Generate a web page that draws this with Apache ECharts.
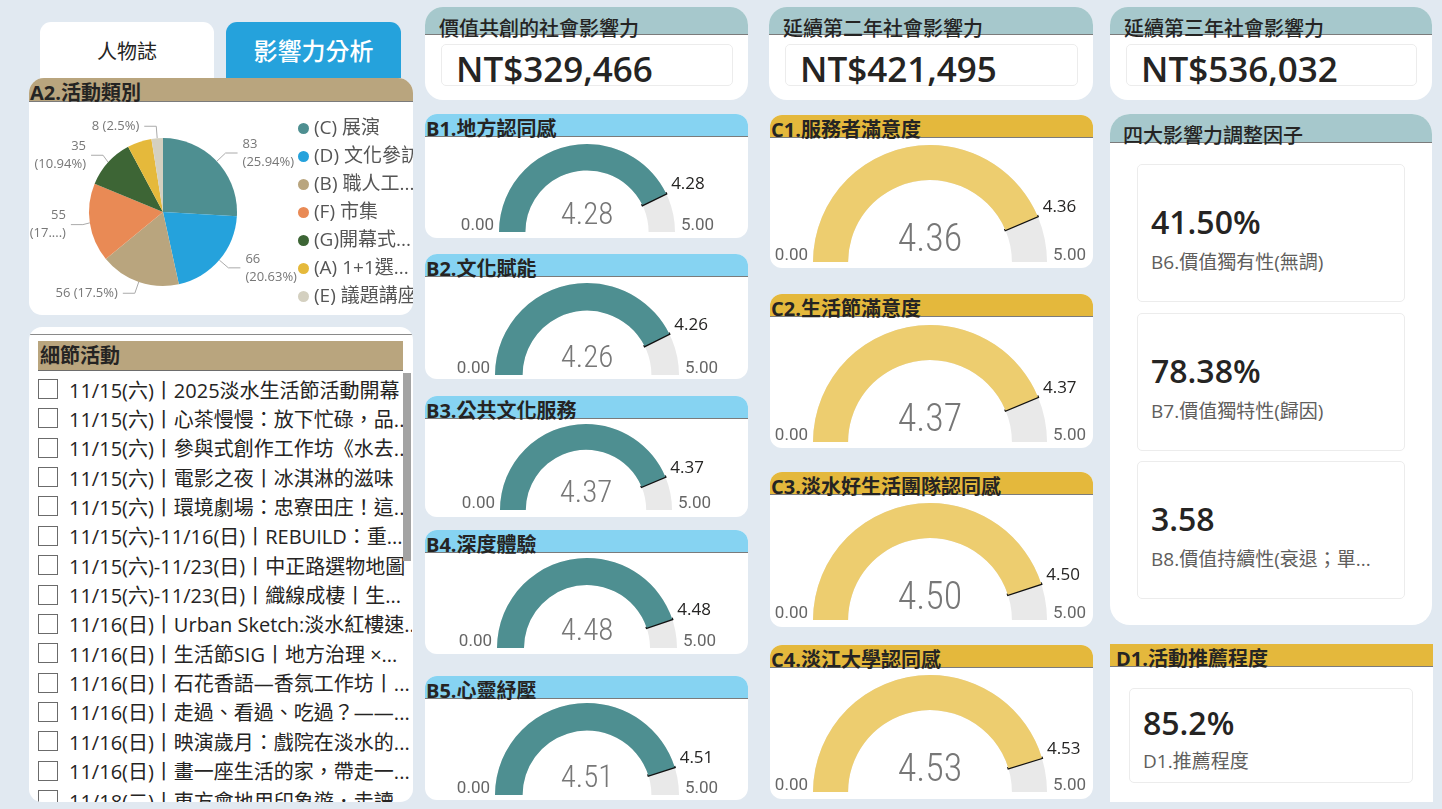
<!DOCTYPE html>
<html>
<head>
<meta charset="utf-8">
<script src="https://cdn.jsdelivr.net/npm/echarts@6/dist/echarts.min.js"></script>
<style>
html, body { margin: 0; padding: 0; }
body {
    width: 1442px; height: 809px; background: #E1E9F1; position: relative; overflow: hidden;
    font-family: "Open Sans", "Noto Sans CJK TC", sans-serif; color: #252423;
}
.card { position: absolute; background: #fff; border-radius: 13px; overflow: hidden; }
.hdr { position: absolute; left: 0; right: 0; top: 0; border-bottom: 1px solid #7b7b7b; box-sizing: border-box; }
.ttl { position: absolute; white-space: nowrap; font-size: 20px; line-height: 20px; font-weight: 700; }
.box { position: absolute; border: 1px solid #ececec; border-radius: 5px; box-sizing: border-box; }
.big { position: absolute; white-space: nowrap; font-weight: 600; line-height: 1; }
.sub { position: absolute; white-space: nowrap; font-size: 19px; line-height: 1; color: #605E5C; }
.tab { position: absolute; border-radius: 11px 11px 0 0; text-align: center; }
.row { position: absolute; left: 9px; width: 374px; height: 29px; display: flex; align-items: center; white-space: nowrap; overflow: hidden; font-size: 20px; }
.chk { width: 18px; height: 18px; border: 1px solid #6b6b6b; flex: none; margin-right: 11px; }
#gauges { position: absolute; left: 0; top: 0; width: 1442px; height: 809px; z-index: 5; pointer-events: none; }
</style>
</head>
<body>
<div id="gauges"></div>
<script>
// ---------- data ----------
const kpiTitles = ["價值共創的社會影響力", "延續第二年社會影響力", "延續第三年社會影響力"];
const kpiValues = [329466, 421495, 536032];

const pieNames = ["(C) 展演", "(D) 文化參訪", "(B) 職人工...", "(F) 市集", "(G)開幕式...", "(A) 1+1選...", "(E) 議題講座"];
const pieValues = [83, 66, 56, 55, 35, 17, 8];
const pieColors = ["#4E8F91", "#25A2DC", "#B9A57E", "#E98A55", "#3D6535", "#E5B93B", "#D4D0C0"];

const gaugeTitles = ["B1.地方認同感", "B2.文化賦能", "B3.公共文化服務", "B4.深度體驗", "B5.心靈紓壓",
    "C1.服務者滿意度", "C2.生活節滿意度", "C3.淡水好生活團隊認同感", "C4.淡江大學認同感"];
const gaugeValues = [4.28, 4.26, 4.37, 4.48, 4.51, 4.36, 4.37, 4.50, 4.53];
const gaugeMin = 0;
const gaugeMax = 5;

const factorLabels = ["B6.價值獨有性(無調)", "B7.價值獨特性(歸因)", "B8.價值持續性(衰退；單..."];
const factorValues = ["41.50%", "78.38%", "3.58"];
const recommendLabel = "D1.推薦程度";
const recommendValue = "85.2%";

const activities = [
    "11/15(六)丨2025淡水生活節活動開幕",
    "11/15(六)丨心茶慢慢：放下忙碌，品...",
    "11/15(六)丨參與式創作工作坊《水去...",
    "11/15(六)丨電影之夜丨冰淇淋的滋味",
    "11/15(六)丨環境劇場：忠寮田庄！這...",
    "11/15(六)-11/16(日)丨REBUILD：重...",
    "11/15(六)-11/23(日)丨中正路選物地圖",
    "11/15(六)-11/23(日)丨織線成棲丨生...",
    "11/16(日)丨Urban Sketch:淡水紅樓速...",
    "11/16(日)丨生活節SIG丨地方治理 ×...",
    "11/16(日)丨石花香語—香氛工作坊丨...",
    "11/16(日)丨走過、看過、吃過？——...",
    "11/16(日)丨映演歲月：戲院在淡水的...",
    "11/16(日)丨畫一座生活的家，帶走一...",
    "11/18(二)丨東方會地用印象遊．走讀..."
];

// ---------- layout ----------
const page = document.body;
const teal = "#4E8F91", gold = "#EDCD6F", track = "#E9E9E9";
const gaugeBoxes = [
    { x: 425, y: 114, w: 323, h: 124, cx: 587, cy: 232, r: 88 },
    { x: 425, y: 254, w: 323, h: 125, cx: 587, cy: 375, r: 92 },
    { x: 425, y: 396, w: 323, h: 121, cx: 586, cy: 510, r: 86 },
    { x: 425, y: 530, w: 323, h: 124, cx: 587, cy: 648, r: 90 },
    { x: 425, y: 676, w: 323, h: 124, cx: 587, cy: 795, r: 92 },
    { x: 770, y: 115, w: 323, h: 153, cx: 930, cy: 262, r: 117 },
    { x: 770, y: 294, w: 323, h: 154, cx: 930, cy: 442, r: 117 },
    { x: 770, y: 472, w: 323, h: 155, cx: 930, cy: 620, r: 117 },
    { x: 770, y: 645, w: 323, h: 154, cx: 930, cy: 792, r: 117 }
];

let el = (cls, parent, css, text) => {
    const d = document.createElement("div");
    if (cls) d.className = cls;
    Object.assign(d.style, css || {});
    if (text != null) d.textContent = text;
    parent.appendChild(d);
    return d;
};

let card = (x, y, w, h, head, headH, title, tx, ty, extra) => {
    const c = el("card", page, Object.assign({ left: x + "px", top: y + "px", width: w + "px", height: h + "px" }, extra || {}));
    if (head) el("hdr", c, { height: headH + "px", background: head });
    if (title) el("ttl", c, { left: tx + "px", top: ty + "px" }, title);
    return c;
};

// tabs
el("tab", page, { left: "40px", top: "22px", width: "174px", height: "60px", background: "#fff", fontSize: "20px", lineHeight: "60px" }, "人物誌");
el("tab", page, { left: "226px", top: "22px", width: "175px", height: "56px", background: "#25A2DC", color: "#fff", fontSize: "24px", fontWeight: 500, lineHeight: "58px" }, "影響力分析");

// pie card
const pieCard = card(29, 78, 384, 237, "#B9A57E", 24, "A2.活動類別", 1, 5, { borderRadius: "15px 15px 13px 13px" });
const pieDiv = el(null, pieCard, { position: "absolute", left: 0, top: 0, width: "384px", height: "237px" });

// activity list card
const listCard = card(29, 327, 384, 475, null, 0, null);
el(null, listCard, { position: "absolute", left: 0, right: 0, top: "7px", height: "1px", background: "#8a8a8a" });
const lh = el(null, listCard, { position: "absolute", left: "9px", top: "14px", width: "365px", height: "30px", background: "#B9A57E", borderBottom: "1px solid #6d6d6d", boxSizing: "border-box" });
el("ttl", lh, { left: "2px", top: "5px" }, "細節活動");
activities.forEach((t, i) => {
    const r = el("row", listCard, { top: (47.5 + i * 29.36) + "px" });
    el("chk", r);
    el(null, r, {}, t);
});
el(null, listCard, { position: "absolute", left: "374px", top: "46px", width: "8px", height: "188px", background: "#A3A3A3", zIndex: 2 });

// KPI cards
[[425, 323], [769, 324], [1110, 322]].forEach(([x, w], i) => {
    const c = card(x, 7, w, 93, "#A6C8CC", 28, null, 0, 0, { borderRadius: "18px" });
    el("ttl", c, { left: "14px", top: "12px", fontWeight: 500 }, kpiTitles[i]);
    el("box", c, { left: "16px", top: "37px", width: (w - 31) + "px", height: "42px" });
    el("big", c, { left: "31px", top: "44px", fontSize: "35px" }, "NT$" + kpiValues[i].toLocaleString("en-US"));
});

// gauge cards
gaugeBoxes.forEach((g, i) => {
    card(g.x, g.y, g.w, g.h, i < 5 ? "#86D3F2" : "#E4B83C", 23, gaugeTitles[i], 1, 5, { borderRadius: "12px" });
});

// factor card
const fc = card(1110, 114, 322, 511, "#A6C8CC", 29, null, 0, 0, { borderRadius: "20px" });
el("ttl", fc, { left: "13px", top: "12px", fontWeight: 500 }, "四大影響力調整因子");
[164, 313, 461].forEach((top, i) => {
    const y = top - 114;
    el("box", fc, { left: "27px", top: y + "px", width: "268px", height: "138px" });
    el("big", fc, { left: "41px", top: (y + 42) + "px", fontSize: "32px" }, factorValues[i]);
    el("sub", fc, { left: "41px", top: (y + 89) + "px" }, factorLabels[i]);
});

// recommend card
const dc = card(1110, 644, 323, 158, "#E4B83C", 23, "D1.活動推薦程度", 6, 5, { borderRadius: "0" });
el("box", dc, { left: "19px", top: "44px", width: "284px", height: "95px" });
el("big", dc, { left: "33px", top: "63px", fontSize: "32px" }, recommendValue);
el("sub", dc, { left: "33px", top: "108px" }, recommendLabel);

// ---------- pie ----------
const pieTotal = pieValues.reduce((a, b) => a + b, 0);
let pct = v => +(v / pieTotal * 100).toFixed(2) + "%";
let pieLabel = p => {
    const n = p.name, v = p.value;
    if (n === "(F) 市集") return v + "\n(17....)";
    if (n === "(B) 職人工..." || n === "(E) 議題講座") return v + " (" + pct(v) + ")";
    return v + "\n(" + pct(v) + ")";
};
const pieChart = echarts.init(pieDiv);
pieChart.setOption({
    animation: false,
    legend: {
        orient: "vertical", left: 269, top: 41, padding: 0, icon: "circle", itemWidth: 11, itemHeight: 11, itemGap: 9,
        textStyle: { fontSize: 19, color: "#555", fontFamily: '"Open Sans", "Noto Sans CJK TC"', lineHeight: 19 }
    },
    series: [{
        type: "pie", center: [134, 134], radius: 74, startAngle: 90,
        data: pieNames.map((n, i) => ({
            name: n, value: pieValues[i], itemStyle: { color: pieColors[i] },
            label: { show: i !== 5 },
            labelLine: { show: i !== 5 }
        })),
        label: { formatter: pieLabel, fontSize: 13, color: "#777", lineHeight: 18, fontFamily: '"Open Sans"', overflow: "none" },
        labelLine: { length: 12, length2: 12, lineStyle: { color: "#aaa", width: 1 } }
    }]
});

// ---------- gauges ----------
const numFont = '"Roboto Condensed", Roboto, sans-serif';
const series = [];
const graphics = [];
gaugeBoxes.forEach((g, i) => {
    const v = gaugeValues[i];
    const t = g.r * 0.3;
    const big = i >= 5;
    series.push({
        type: "gauge", center: [g.cx, g.cy], radius: g.r, startAngle: 180, endAngle: 0,
        min: gaugeMin, max: gaugeMax, splitNumber: 1,
        axisLine: { lineStyle: { width: t, color: [[1, track]] } },
        progress: { show: true, width: t, itemStyle: { color: big ? gold : teal } },
        pointer: { icon: "rect", width: 2.5, length: t + 2, offsetCenter: [0, -(g.r - t - 1)], itemStyle: { color: "#111" } },
        anchor: { show: false }, axisTick: { show: false }, splitLine: { show: false }, axisLabel: { show: false },
        title: { show: false },
        detail: {
            offsetCenter: [0, big ? -21 : -16], fontSize: big ? 38 : 31, fontWeight: 300,
            fontFamily: numFont, color: "#777", formatter: x => x.toFixed(2)
        },
        data: [{ value: v }]
    });
    const lab = (txt, x, align) => ({
        type: "text", x: x, y: g.cy - 6, z: 10,
        style: { text: txt, fill: "#666", font: "400 17px Roboto, sans-serif", align: align, verticalAlign: "middle" }
    });
    graphics.push(lab(gaugeMin.toFixed(2), g.cx - g.r - 5, "right"));
    graphics.push(lab(gaugeMax.toFixed(2), g.cx + g.r + 6, "left"));
    const a = Math.PI * (1 - (v - gaugeMin) / (gaugeMax - gaugeMin));
    graphics.push({
        type: "text", x: g.cx + g.r * Math.cos(a) + 5, y: g.cy - g.r * Math.sin(a) - 9, z: 10,
        style: { text: v.toFixed(2), fill: "#252423", font: '17px "Open Sans"', align: "left", verticalAlign: "middle" }
    });
});
const gaugeChart = echarts.init(document.getElementById("gauges"));
gaugeChart.setOption({ animation: false, series: series, graphic: graphics });
</script>
</body>
</html>
